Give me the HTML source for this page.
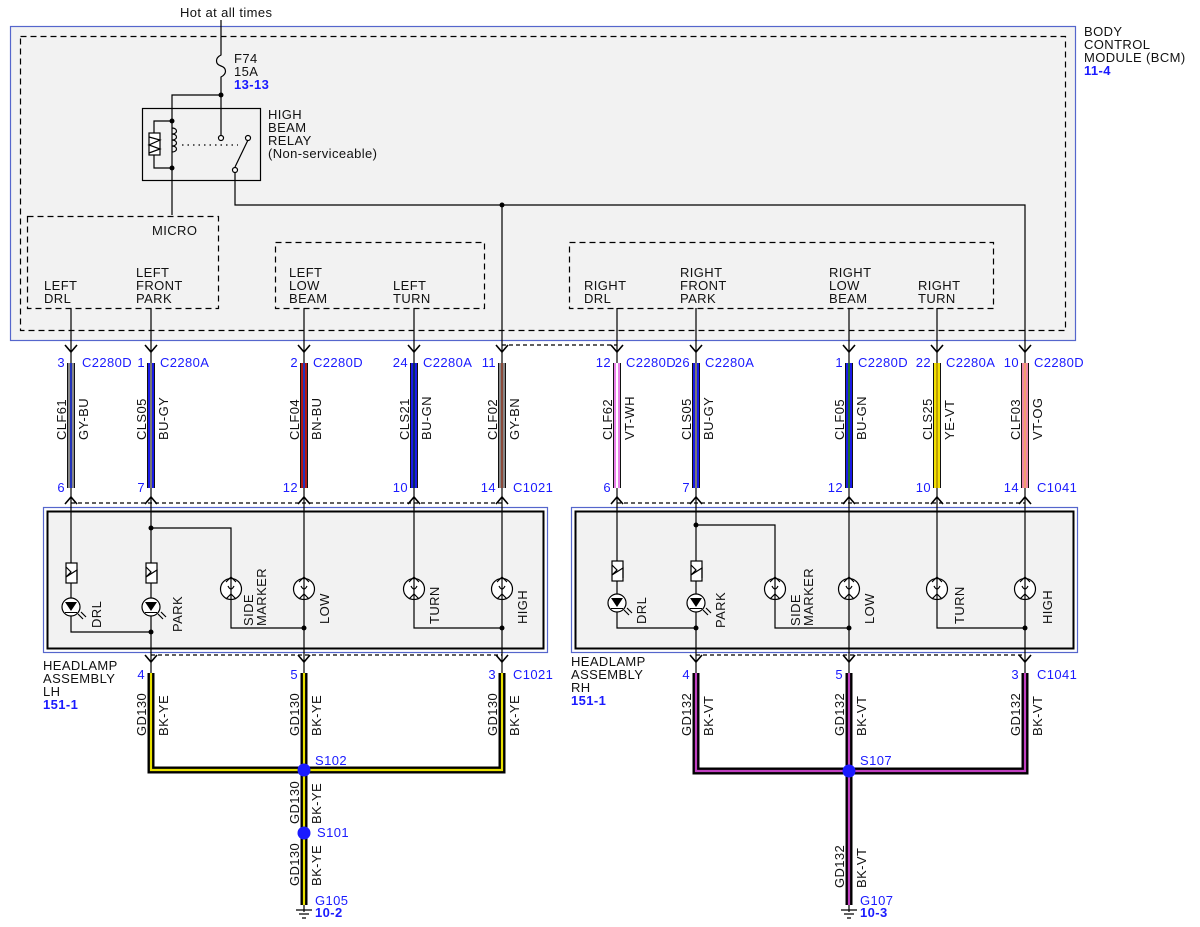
<!DOCTYPE html>
<html><head><meta charset="utf-8"><style>
html,body{margin:0;padding:0;background:#fff;}
svg{display:block;font-family:"Liberation Sans",sans-serif;font-size:13px;letter-spacing:0.4px;}
.b{fill:#1a1aff}
.bb{fill:#1a1aff;font-weight:bold}
</style></head><body>
<svg width="1200" height="927" viewBox="0 0 1200 927" xmlns="http://www.w3.org/2000/svg">
<g fill="none" stroke="#000" stroke-width="1.2">
<rect x="10.5" y="26.5" width="1065" height="314" fill="#f2f2f2" stroke="#5566cc"/>
<rect x="20.5" y="36.5" width="1045" height="294" stroke-dasharray="6,4"/>
<rect x="27.5" y="216.5" width="191" height="92" stroke-dasharray="6,4"/>
<rect x="275.5" y="242.5" width="209" height="66" stroke-dasharray="6,4"/>
<rect x="569.5" y="242.5" width="424" height="66" stroke-dasharray="6,4"/>
<path d="M221 20 V55 C215 58 215 64 221 66 C227 68 227 74 221 77 V138"/>
<path d="M221 95 H172 V215"/>
<rect x="142.5" y="108.5" width="118" height="72"/>
<path d="M172 121 H154 V168 H172"/>
<rect x="149" y="133" width="11" height="22" fill="#fff"/>
<path d="M149 137 L160 140 L149 145 L160 149 L149 153"/>
<path d="M172 128 c6 0 6 6 0 6 c6 0 6 6 0 6 c6 0 6 6 0 6 c6 0 6 6 0 6"/>
<path d="M182 145 H238" stroke-dasharray="1.5,4"/>
<circle cx="221" cy="138" r="2.5" fill="#fff"/>
<path d="M235 167 L248 140"/>
<circle cx="248" cy="138" r="2.5" fill="#fff"/>
<circle cx="235" cy="170" r="2.5" fill="#fff"/>
<path d="M235 172 V205 H1025 V340"/>
<path d="M502 205 V340"/>
<path d="M71 308 V363 M151 308 V363 M304 308 V363 M414 308 V363 M617 308 V363 M696 308 V363 M849 308 V363 M937 308 V363 M502 340 V363 M1025 340 V363"/>
<path d="M502 345 H617" stroke-dasharray="4,3"/>
<path d="M71 503 H502 M617 503 H1025" stroke-dasharray="4,3"/>
<path d="M151 655 H502 M696 655 H1025" stroke-dasharray="4,3"/>
</g>
<g fill="#000">
<circle cx="221" cy="95" r="2.5"/><circle cx="172" cy="121" r="2.5"/><circle cx="172" cy="168" r="2.5"/><circle cx="502" cy="205" r="2.5"/>
</g>
<g fill="none" stroke="#000" stroke-width="1.6">
<path d="M65 345 L71 352 L77 345 M145 345 L151 352 L157 345 M298 345 L304 352 L310 345 M408 345 L414 352 L420 345 M496 345 L502 352 L508 345 M611 345 L617 352 L623 345 M690 345 L696 352 L702 345 M843 345 L849 352 L855 345 M931 345 L937 352 L943 345 M1019 345 L1025 352 L1031 345"/>
<path d="M65 504 L71 497 L77 504 M145 504 L151 497 L157 504 M298 504 L304 497 L310 504 M408 504 L414 497 L420 504 M496 504 L502 497 L508 504 M611 504 L617 497 L623 504 M690 504 L696 497 L702 504 M843 504 L849 497 L855 504 M931 504 L937 497 L943 504 M1019 504 L1025 497 L1031 504"/>
<path d="M145 655 L151 662 L157 655 M298 655 L304 662 L310 655 M496 655 L502 662 L508 655 M690 655 L696 662 L702 655 M843 655 L849 662 L855 655 M1019 655 L1025 662 L1031 655"/>
</g>
<g>
<rect x="67" y="363" width="8" height="125" fill="#111"/><rect x="68" y="363" width="6" height="125" fill="#888"/><rect x="70" y="363" width="2" height="125" fill="#2233bb"/>
<rect x="147" y="363" width="8" height="125" fill="#111"/><rect x="148" y="363" width="6" height="125" fill="#1a1ae6"/><rect x="150" y="363" width="2" height="125" fill="#777"/>
<rect x="300" y="363" width="8" height="125" fill="#111"/><rect x="301" y="363" width="6" height="125" fill="#b01818"/><rect x="303" y="363" width="2" height="125" fill="#2233bb"/>
<rect x="410" y="363" width="8" height="125" fill="#111"/><rect x="411" y="363" width="6" height="125" fill="#1a1ae6"/><rect x="413" y="363" width="2" height="125" fill="#0a2a60"/>
<rect x="498" y="363" width="8" height="125" fill="#111"/><rect x="499" y="363" width="6" height="125" fill="#888"/><rect x="501" y="363" width="2" height="125" fill="#8b4a3a"/>
<rect x="613" y="363" width="8" height="125" fill="#111"/><rect x="614" y="363" width="6" height="125" fill="#e880e8"/><rect x="616" y="363" width="2" height="125" fill="#fff"/>
<rect x="692" y="363" width="8" height="125" fill="#111"/><rect x="693" y="363" width="6" height="125" fill="#1a1ae6"/><rect x="695" y="363" width="2" height="125" fill="#777"/>
<rect x="845" y="363" width="8" height="125" fill="#111"/><rect x="846" y="363" width="6" height="125" fill="#1a1ae6"/><rect x="848" y="363" width="2" height="125" fill="#1a6a30"/>
<rect x="933" y="363" width="8" height="125" fill="#111"/><rect x="934" y="363" width="6" height="125" fill="#f2e000"/><rect x="936" y="363" width="2" height="125" fill="#c0a000"/>
<rect x="1021" y="363" width="8" height="125" fill="#111"/><rect x="1022" y="363" width="6" height="125" fill="#f088a8"/><rect x="1024" y="363" width="2" height="125" fill="#f0a070"/>
</g>
<g fill="none" stroke="#000" stroke-width="1.2">
<rect x="43.5" y="507.5" width="504" height="145" stroke="#5566cc"/>
<rect x="47.5" y="511.5" width="496" height="137" fill="#f2f2f2" stroke-width="2"/>
<rect x="571.5" y="507.5" width="506" height="145" stroke="#5566cc"/>
<rect x="575.5" y="511.5" width="498" height="137" fill="#f2f2f2" stroke-width="2"/>
</g>
<g fill="none" stroke="#000" stroke-width="1.2">
<path d="M71 488 V563 M71 583 V598 M71 616 V632 H151"/>
<path d="M151 488 V673"/>
<path d="M151 528 H231 V579 M231 599 V628 H304"/>
<path d="M304 488 V673"/>
<path d="M414 488 V579 M414 599 V628 H502"/>
<path d="M502 488 V673"/>
<path d="M617 488 V561 M617 581 V594 M617 612 V628 H696"/>
<path d="M696 488 V673"/>
<path d="M696 525 H775 V579 M775 599 V628 H849"/>
<path d="M849 488 V673"/>
<path d="M937 488 V579 M937 599 V628 H1025"/>
<path d="M1025 488 V673"/>
</g>
<g fill="none" stroke="#000" stroke-width="1.2">
<rect x="66" y="563" width="11" height="20" fill="#fff"/><path d="M66 567 L71 572 L66 577 L77 570 L77 580"/>
<rect x="146" y="563" width="11" height="20" fill="#fff"/><path d="M146 567 L151 572 L146 577 L157 570 L157 580"/>
<rect x="612" y="561" width="11" height="20" fill="#fff"/><path d="M612 565 L617 570 L612 575 L623 568 L623 578"/>
<rect x="691" y="561" width="11" height="20" fill="#fff"/><path d="M691 565 L696 570 L691 575 L702 568 L702 578"/>
<circle cx="71" cy="607" r="9" fill="#fff"/><circle cx="151" cy="607" r="9" fill="#fff"/>
<circle cx="617" cy="603" r="9" fill="#fff"/><circle cx="696" cy="603" r="9" fill="#fff"/>
<path d="M78 614 l5 5 M81 612 l5 5 M158 614 l5 5 M161 612 l5 5 M624 610 l5 5 M627 608 l5 5 M703 610 l5 5 M706 608 l5 5"/>
<circle cx="231" cy="589" r="10.5" fill="#fff"/><circle cx="304" cy="589" r="10.5" fill="#fff"/><circle cx="414" cy="589" r="10.5" fill="#fff"/><circle cx="502" cy="589" r="10.5" fill="#fff"/>
<circle cx="775" cy="589" r="10.5" fill="#fff"/><circle cx="849" cy="589" r="10.5" fill="#fff"/><circle cx="937" cy="589" r="10.5" fill="#fff"/><circle cx="1025" cy="589" r="10.5" fill="#fff"/>
<path d="M228 586 q3 6 6 0 M301 586 q3 6 6 0 M411 586 q3 6 6 0 M499 586 q3 6 6 0 M772 586 q3 6 6 0 M846 586 q3 6 6 0 M934 586 q3 6 6 0 M1022 586 q3 6 6 0"/>
<path d="M226 582 l5-5 l5 5 M226 599 l5-5 l5 5 M299 582 l5-5 l5 5 M299 599 l5-5 l5 5 M409 582 l5-5 l5 5 M409 599 l5-5 l5 5 M497 582 l5-5 l5 5 M497 599 l5-5 l5 5 M770 582 l5-5 l5 5 M770 599 l5-5 l5 5 M844 582 l5-5 l5 5 M844 599 l5-5 l5 5 M932 582 l5-5 l5 5 M932 599 l5-5 l5 5 M1020 582 l5-5 l5 5 M1020 599 l5-5 l5 5"/>
<path d="M231 579 V599 M304 579 V599 M414 579 V599 M502 579 V599 M775 579 V599 M849 579 V599 M937 579 V599 M1025 579 V599"/>
</g>
<g fill="#000">
<path d="M65 602 H77 L71 611 Z M145 602 H157 L151 611 Z M611 598 H623 L617 607 Z M690 598 H702 L696 607 Z"/>
<path d="M65 612 H77 V613 H65Z M145 612 H157 V613 H145Z M611 608 H623 V609 H611Z M690 608 H702 V609 H690Z"/>
<circle cx="151" cy="528" r="2.5"/><circle cx="151" cy="632" r="2.5"/><circle cx="304" cy="628" r="2.5"/><circle cx="502" cy="628" r="2.5"/>
<circle cx="696" cy="525" r="2.5"/><circle cx="696" cy="628" r="2.5"/><circle cx="849" cy="628" r="2.5"/><circle cx="1025" cy="628" r="2.5"/>
</g>
<g fill="none" stroke-linejoin="miter">
<path d="M151 673 V770 H502 V673 M304 673 V905" stroke="#000" stroke-width="7"/>
<path d="M151 673 V770 H502 V673 M304 673 V905" stroke="#e8e000" stroke-width="2.2"/>
<path d="M696 673 V771 H1025 V673 M849 673 V905" stroke="#000" stroke-width="7"/>
<path d="M696 673 V771 H1025 V673 M849 673 V905" stroke="#c040c0" stroke-width="2.2"/>
<path d="M304 905 V912 M296 910 H312 M299 914 H309 M302 918 H306 M849 905 V912 M841 910 H857 M844 914 H854 M847 918 H851" stroke="#000" stroke-width="1.2"/>
</g>
<g fill="#1a1aff"><circle cx="304" cy="770" r="6.5"/><circle cx="304" cy="833" r="6.5"/><circle cx="849" cy="771" r="6.5"/></g>
<g fill="#111">
<text x="180" y="17">Hot at all times</text>
<text x="234" y="63">F74</text><text x="234" y="76">15A</text>
<text x="268" y="119">HIGH</text><text x="268" y="132">BEAM</text><text x="268" y="145">RELAY</text><text x="268" y="158">(Non-serviceable)</text>
<text x="1084" y="36">BODY</text><text x="1084" y="49">CONTROL</text><text x="1084" y="62">MODULE (BCM)</text>
<text x="152" y="235">MICRO</text>
<text x="44" y="290">LEFT</text><text x="44" y="303">DRL</text>
<text x="136" y="277">LEFT</text><text x="136" y="290">FRONT</text><text x="136" y="303">PARK</text>
<text x="289" y="277">LEFT</text><text x="289" y="290">LOW</text><text x="289" y="303">BEAM</text>
<text x="393" y="290">LEFT</text><text x="393" y="303">TURN</text>
<text x="584" y="290">RIGHT</text><text x="584" y="303">DRL</text>
<text x="680" y="277">RIGHT</text><text x="680" y="290">FRONT</text><text x="680" y="303">PARK</text>
<text x="829" y="277">RIGHT</text><text x="829" y="290">LOW</text><text x="829" y="303">BEAM</text>
<text x="918" y="290">RIGHT</text><text x="918" y="303">TURN</text>
<text x="43" y="670">HEADLAMP</text><text x="43" y="683">ASSEMBLY</text><text x="43" y="696">LH</text>
<text x="571" y="666">HEADLAMP</text><text x="571" y="679">ASSEMBLY</text><text x="571" y="692">RH</text>
</g>
<g class="bb"><text x="234" y="89">13-13</text><text x="1084" y="75">11-4</text><text x="43" y="709">151-1</text><text x="571" y="705">151-1</text>
<text x="315" y="917">10-2</text><text x="860" y="917">10-3</text></g>
<g class="b" text-anchor="end">
<text x="65" y="367">3</text><text x="145" y="367">1</text><text x="298" y="367">2</text><text x="408" y="367">24</text><text x="496" y="367">11</text>
<text x="611" y="367">12</text><text x="690" y="367">26</text><text x="843" y="367">1</text><text x="931" y="367">22</text><text x="1019" y="367">10</text>
<text x="65" y="492">6</text><text x="145" y="492">7</text><text x="298" y="492">12</text><text x="408" y="492">10</text><text x="496" y="492">14</text>
<text x="611" y="492">6</text><text x="690" y="492">7</text><text x="843" y="492">12</text><text x="931" y="492">10</text><text x="1019" y="492">14</text>
<text x="145" y="679">4</text><text x="298" y="679">5</text><text x="496" y="679">3</text>
<text x="690" y="679">4</text><text x="843" y="679">5</text><text x="1019" y="679">3</text>
</g>
<g class="b">
<text x="82" y="367">C2280D</text><text x="160" y="367">C2280A</text><text x="313" y="367">C2280D</text><text x="423" y="367">C2280A</text>
<text x="626" y="367">C2280D</text><text x="705" y="367">C2280A</text><text x="858" y="367">C2280D</text><text x="946" y="367">C2280A</text><text x="1034" y="367">C2280D</text>
<text x="513" y="492">C1021</text><text x="1037" y="492">C1041</text>
<text x="513" y="679">C1021</text><text x="1037" y="679">C1041</text>
<text x="315" y="765">S102</text><text x="317" y="837">S101</text><text x="860" y="765">S107</text>
<text x="315" y="905">G105</text><text x="860" y="905">G107</text>
</g>
<g fill="#111">
<text transform="translate(66,440) rotate(-90)">CLF61</text><text transform="translate(88,440) rotate(-90)">GY-BU</text>
<text transform="translate(146,440) rotate(-90)">CLS05</text><text transform="translate(168,440) rotate(-90)">BU-GY</text>
<text transform="translate(299,440) rotate(-90)">CLF04</text><text transform="translate(321,440) rotate(-90)">BN-BU</text>
<text transform="translate(409,440) rotate(-90)">CLS21</text><text transform="translate(431,440) rotate(-90)">BU-GN</text>
<text transform="translate(497,440) rotate(-90)">CLF02</text><text transform="translate(519,440) rotate(-90)">GY-BN</text>
<text transform="translate(612,440) rotate(-90)">CLF62</text><text transform="translate(634,440) rotate(-90)">VT-WH</text>
<text transform="translate(691,440) rotate(-90)">CLS05</text><text transform="translate(713,440) rotate(-90)">BU-GY</text>
<text transform="translate(844,440) rotate(-90)">CLF05</text><text transform="translate(866,440) rotate(-90)">BU-GN</text>
<text transform="translate(932,440) rotate(-90)">CLS25</text><text transform="translate(954,440) rotate(-90)">YE-VT</text>
<text transform="translate(1020,440) rotate(-90)">CLF03</text><text transform="translate(1042,440) rotate(-90)">VT-OG</text>

<text transform="translate(146,736) rotate(-90)">GD130</text><text transform="translate(168,736) rotate(-90)">BK-YE</text>
<text transform="translate(299,736) rotate(-90)">GD130</text><text transform="translate(321,736) rotate(-90)">BK-YE</text>
<text transform="translate(497,736) rotate(-90)">GD130</text><text transform="translate(519,736) rotate(-90)">BK-YE</text>
<text transform="translate(299,824) rotate(-90)">GD130</text><text transform="translate(321,824) rotate(-90)">BK-YE</text>
<text transform="translate(299,886) rotate(-90)">GD130</text><text transform="translate(321,886) rotate(-90)">BK-YE</text>
<text transform="translate(691,736) rotate(-90)">GD132</text><text transform="translate(713,736) rotate(-90)">BK-VT</text>
<text transform="translate(844,736) rotate(-90)">GD132</text><text transform="translate(866,736) rotate(-90)">BK-VT</text>
<text transform="translate(1020,736) rotate(-90)">GD132</text><text transform="translate(1042,736) rotate(-90)">BK-VT</text>
<text transform="translate(844,888) rotate(-90)">GD132</text><text transform="translate(866,888) rotate(-90)">BK-VT</text>

<text transform="translate(101,628) rotate(-90)">DRL</text>
<text transform="translate(182,632) rotate(-90)">PARK</text>
<text transform="translate(253,626) rotate(-90)">SIDE</text><text transform="translate(266,626) rotate(-90)">MARKER</text>
<text transform="translate(329,624) rotate(-90)">LOW</text>
<text transform="translate(439,624) rotate(-90)">TURN</text>
<text transform="translate(527,624) rotate(-90)">HIGH</text>
<text transform="translate(646,624) rotate(-90)">DRL</text>
<text transform="translate(725,628) rotate(-90)">PARK</text>
<text transform="translate(800,626) rotate(-90)">SIDE</text><text transform="translate(813,626) rotate(-90)">MARKER</text>
<text transform="translate(874,624) rotate(-90)">LOW</text>
<text transform="translate(964,624) rotate(-90)">TURN</text>
<text transform="translate(1052,624) rotate(-90)">HIGH</text>
</g>
</svg>
</body></html>
